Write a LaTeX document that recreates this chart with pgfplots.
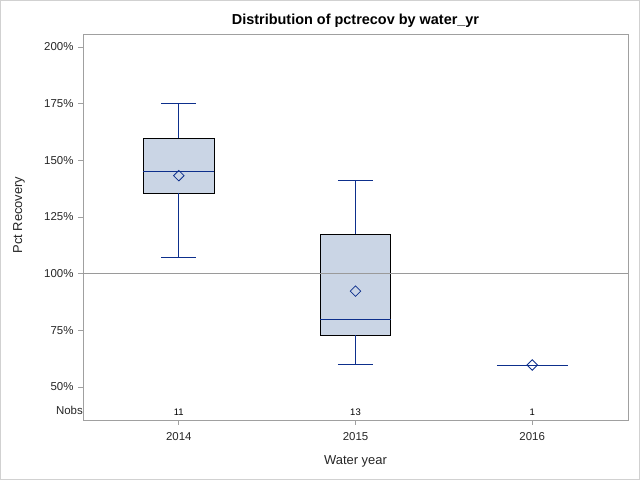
\documentclass[border=0pt]{standalone}
\usepackage{pgfplots}
\pgfplotsset{compat=1.18}
\usepackage{fontspec}
\setmainfont{Liberation Sans}
\definecolor{boxfill}{HTML}{CAD5E5}
\definecolor{navy}{HTML}{0D2F8C}
\definecolor{frame}{HTML}{A0A0A0}
\definecolor{refl}{HTML}{9A9A9A}

% box statistics per water year: pos, lower whisker, Q1, median, Q3, upper whisker
% 2014: 1, 107.3, 135.4, 145.3, 159.7, 175.1   mean 143.2  n=11
% 2015: 2,  60.1,  72.9,  79.9, 117.4, 141.0   mean  92.3  n=13
% 2016: 3,  59.7,  59.7,  59.7,  59.7,  59.7   mean  59.7  n=1

\begin{document}
\begin{tikzpicture}
  % SAS graph border
  \draw[line width=1bp, color=black!18] (0.5bp,0.5bp) rectangle (639.5bp,479.5bp);
  \begin{axis}[
    at={(83bp,60bp)}, anchor=south west,
    width=545bp, height=386bp, scale only axis,
    clip=false,
    xmin=0.458, xmax=3.542,
    ymin=35.44, ymax=205.7,
    xtick={1,2,3}, xticklabels={2014,2015,2016},
    ytick={50,75,100,125,150,175,200},
    yticklabel={\pgfmathprintnumber{\tick}\%},
    /pgf/number format/assume math mode=true,
    tick align=outside,
    major tick length=5bp,
    xtick pos=bottom, ytick pos=left,
    axis line style={frame},
    tick style={frame, line width=0.8bp},
    ticklabel style={font=\fontsize{11.5}{13}\selectfont, color=black!85},
    yticklabel style={xshift=-1bp},
    xticklabel style={yshift=-4bp},
    title={Distribution of pctrecov by water\_yr},
    title style={at={(0.5,1)}, anchor=base, yshift=4bp, inner sep=0pt,
      font=\fontsize{14.5}{17}\selectfont\bfseries},
    xlabel={Water year},
    xlabel style={at={(axis description cs:0.5,-0.106)}, anchor=center,
      font=\fontsize{13}{15}\selectfont, color=black!85},
    ylabel={Pct Recovery},
    ylabel style={at={(axis description cs:-0.1174,0.531)}, anchor=center,
      font=\fontsize{13}{15}\selectfont, color=black!85},
    unbounded coords=jump,
  ]
    % boxes (Q1 to Q3)
    \addplot[fill=boxfill, draw=black, line width=0.8bp] coordinates
      {(0.8,135.4) (1.2,135.4) (1.2,159.7) (0.8,159.7)} -- cycle;
    \addplot[fill=boxfill, draw=black, line width=0.8bp] coordinates
      {(1.8,72.9) (2.2,72.9) (2.2,117.4) (1.8,117.4)} -- cycle;

    % whiskers with caps
    \addplot[navy, line width=0.8bp] coordinates {
      (1,159.7) (1,175.1) (nan,nan) (0.9,175.1) (1.1,175.1) (nan,nan)
      (1,135.4) (1,107.3) (nan,nan) (0.9,107.3) (1.1,107.3) (nan,nan)
      (2,117.4) (2,141.0) (nan,nan) (1.9,141.0) (2.1,141.0) (nan,nan)
      (2,72.9)  (2,60.1)  (nan,nan) (1.9,60.1)  (2.1,60.1)};

    % medians
    \addplot[navy, line width=0.8bp] coordinates {
      (0.8,145.3) (1.2,145.3) (nan,nan)
      (1.8,79.9) (2.2,79.9) (nan,nan)
      (2.8,59.7) (3.2,59.7)};

    % reference line
    \addplot[refl, line width=0.8bp] coordinates {(0.458,100) (3.542,100)};

    % means
    \addplot[only marks, mark=square, mark size=3.7bp,
      mark options={rotate=45, draw=navy, fill=none, line width=0.8bp}]
      coordinates {(1,143.2) (2,92.3)};
    \addplot[only marks, mark=square, mark size=3.7bp,
      mark options={rotate=45, draw=navy, fill=white, line width=0.8bp}]
      coordinates {(3,59.7)};

    % Nobs row
    \addplot[draw=none, nodes near coords, point meta=explicit symbolic,
      every node near coord/.append style={anchor=center,
        font=\fontsize{9.5}{11}\selectfont, color=black}]
      coordinates {(1,38.9)[11] (2,38.9)[13] (3,38.9)[1]};
    \node[anchor=east, font=\fontsize{11.5}{13}\selectfont, color=black!85,
      inner sep=0pt] at (axis cs:0.458,39.6) {Nobs\hspace{2bp}};
  \end{axis}
\end{tikzpicture}
\end{document}
